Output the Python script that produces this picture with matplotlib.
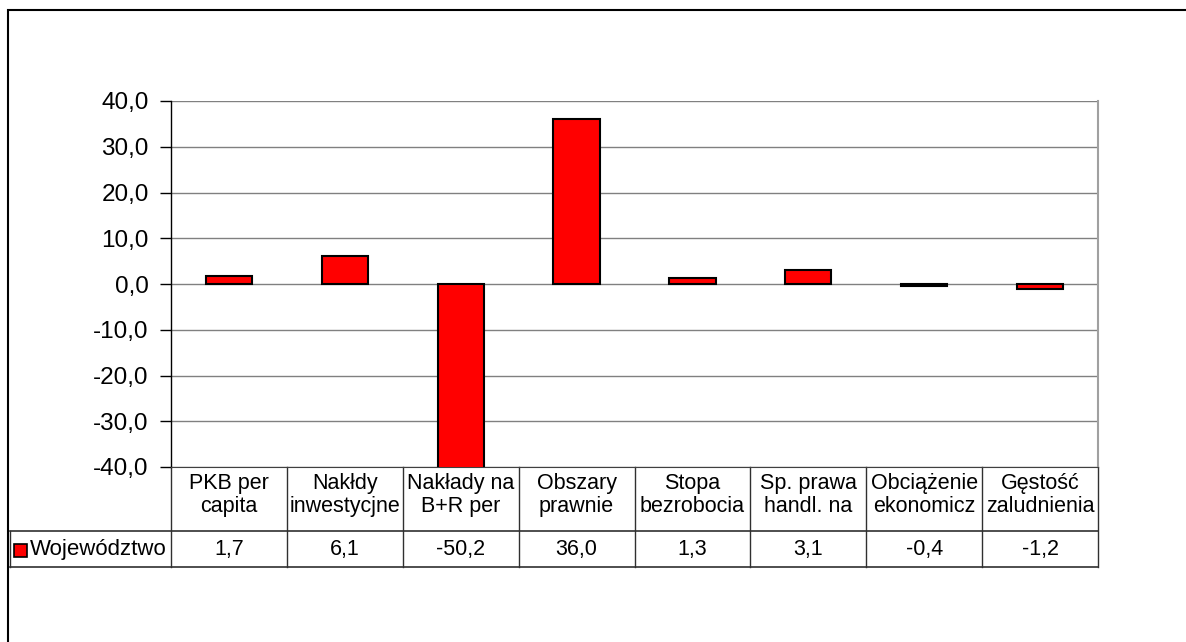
import matplotlib
matplotlib.use('Agg')
import matplotlib.pyplot as plt
import matplotlib.transforms as mtransforms
from matplotlib.patches import Rectangle
from matplotlib.ticker import FuncFormatter

plt.rcParams['font.family'] = ['Liberation Sans', 'DejaVu Sans']

# data
categories = ['PKB per\ncapita', 'Nakłdy\ninwestycjne', 'Nakłady na\nB+R per',
              'Obszary\nprawnie', 'Stopa\nbezrobocia', 'Sp. prawa\nhandl. na',
              'Obciążenie\nekonomicz', 'Gęstość\nzaludnienia']
series_name = 'Województwo'
values = [1.7, 6.1, -50.2, 36.0, 1.3, 3.1, -0.4, -1.2]
yticks = [-40, -30, -20, -10, 0, 10, 20, 30, 40]

# layout in pixels of the 1186x642 picture
W, H = 1186, 642
L, T, R, B = 171, 101, 1098, 467
ROW1, ROW2 = 531, 567      # header row bottom, data row bottom
LEG_X = 10                 # left edge of the legend cell

fig = plt.figure(figsize=(W / 100, H / 100), dpi=100)
ax = fig.add_axes([L / W, 1 - B / H, (R - L) / W, (B - T) / H])

x = list(range(len(values)))
ax.bar(x, values, width=0.4, color='#ff0000', edgecolor='black',
       linewidth=1.5, zorder=3)

ax.set_xlim(-0.5, len(values) - 0.5)
ax.set_ylim(-40, 40)
ax.set_yticks(yticks)
ax.yaxis.set_major_formatter(FuncFormatter(lambda v, p: f'{v:.1f}'.replace('.', ',')))
ax.set_xticks([])
ax.tick_params(axis='y', length=8, width=1, pad=8, labelsize=17.5, colors='black')
ax.yaxis.grid(True, color='#808080', linewidth=1, zorder=1)
ax.set_axisbelow(True)

ax.spines['top'].set_visible(False)
ax.spines['right'].set_color('#a0a0a0')
ax.spines['right'].set_linewidth(1.5)
ax.spines['bottom'].set_color('#404040')
ax.spines['left'].set_color('black')
ax.spines['left'].set_linewidth(1)

# data table under the plot
trans = mtransforms.blended_transform_factory(ax.transData, ax.transAxes)
unit = (R - L) / len(values)


def yf(p):
    return (B - p) / (B - T)


def xd(p):
    return -0.5 + (p - L) / unit


lc = '#303030'
for i in range(len(values) + 1):
    ax.plot([i - 0.5, i - 0.5], [0, yf(ROW2)], color=lc, lw=1,
            transform=trans, clip_on=False)
for p in (ROW1, ROW2):
    ax.plot([xd(LEG_X), len(values) - 0.5], [yf(p), yf(p)], color=lc, lw=1.2,
            transform=trans, clip_on=False)
ax.plot([xd(LEG_X), xd(LEG_X)], [yf(ROW1), yf(ROW2)], color=lc, lw=1,
        transform=trans, clip_on=False)

for i, (c, v) in enumerate(zip(categories, values)):
    ax.text(i, yf(495), c, transform=trans, ha='center', va='center',
            fontsize=15.5, linespacing=1.15, clip_on=False)
    ax.text(i, yf(550), f'{v:.1f}'.replace('.', ','), transform=trans,
            ha='center', va='center', fontsize=15.5, clip_on=False)

# legend key in the table
fig.patches.append(Rectangle((14 / W, 1 - 557 / H), 13 / W, 13 / H,
                             transform=fig.transFigure, facecolor='#ff0000',
                             edgecolor='black', linewidth=1.2))
fig.text(30 / W, 1 - 550 / H, series_name, ha='left', va='center', fontsize=16)

# chart area border (only left and top fall inside the picture)
fig.patches.append(Rectangle((8 / W, -0.1), 1.2, 1.1 - 10 / H,
                             transform=fig.transFigure, fill=False,
                             edgecolor='black', linewidth=1.5))

fig.savefig('out.png', dpi=100)
